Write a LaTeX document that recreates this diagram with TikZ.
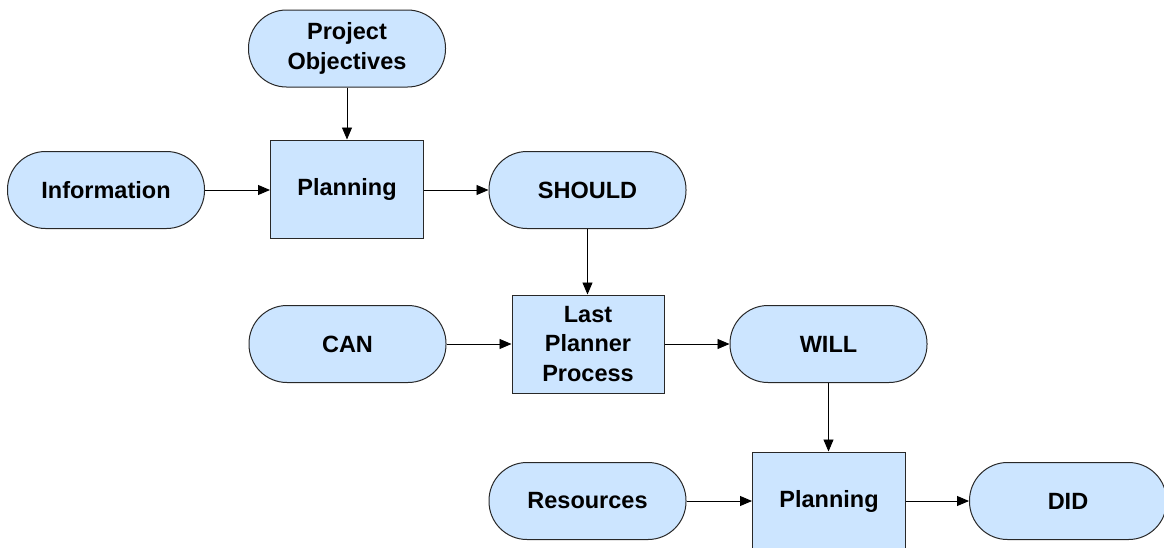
\documentclass[tikz,border=0pt]{standalone}
\usepackage{fontspec}
\setmainfont{Liberation Sans}
\usetikzlibrary{arrows.meta}
\definecolor{boxfill}{RGB}{204,229,255}
\definecolor{boxline}{RGB}{40,40,40}
\begin{document}
\begin{tikzpicture}[x=1pt,y=-1pt,
  txt/.style={font=\fontsize{23.5}{29.5}\selectfont\bfseries, align=center, text=black},
  pill/.style={txt, draw=boxline, fill=boxfill, line width=1pt,
    minimum width=197pt, minimum height=77pt, rounded corners=38pt, inner sep=0pt},
  stepbox/.style={txt, draw=boxline, fill=boxfill, line width=1pt,
    minimum width=153pt, minimum height=98pt, inner sep=0pt},
  flow/.style={draw=black, line width=0.9pt, -{Triangle[length=12pt,width=10pt]}}]
  \useasboundingbox (0,0) rectangle (1164,547);
  \fill[white] (0,0) rectangle (1164,547);

  % top row
  \node[pill] (obj) at (347,48.5) {Project\\Objectives};
  \node[pill] (info) at (106,190) {Information};
  \node[stepbox] (plan1) at (347,189) {Planning};
  \node[pill] (should) at (587.5,190) {SHOULD};

  % middle row
  \node[pill] (can) at (347.5,344) {CAN};
  \node[stepbox, minimum width=152pt] (lpp) at (588,344) {Last\\Planner\\Process};
  \node[pill] (will) at (828.5,344) {WILL};

  % bottom row
  \node[pill] (res) at (587.5,501) {Resources};
  \node[stepbox] (plan2) at (829,501) {Planning};
  \node[pill] (did) at (1068,501) {DID};

  % connectors
  \draw[flow] (obj.south -| plan1.north) -- (plan1.north);
  \draw[flow] (info.east) -- (info.east -| plan1.west);
  \draw[flow] (plan1.east |- should.west) -- (should.west);
  \draw[flow] (should.south) -- (should.south |- lpp.north);
  \draw[flow] (can.east) -- (can.east -| lpp.west);
  \draw[flow] (lpp.east |- will.west) -- (will.west);
  \draw[flow] (will.south) -- (will.south |- plan2.north);
  \draw[flow] (res.east) -- (res.east -| plan2.west);
  \draw[flow] (plan2.east |- did.west) -- (did.west);
\end{tikzpicture}
\end{document}
